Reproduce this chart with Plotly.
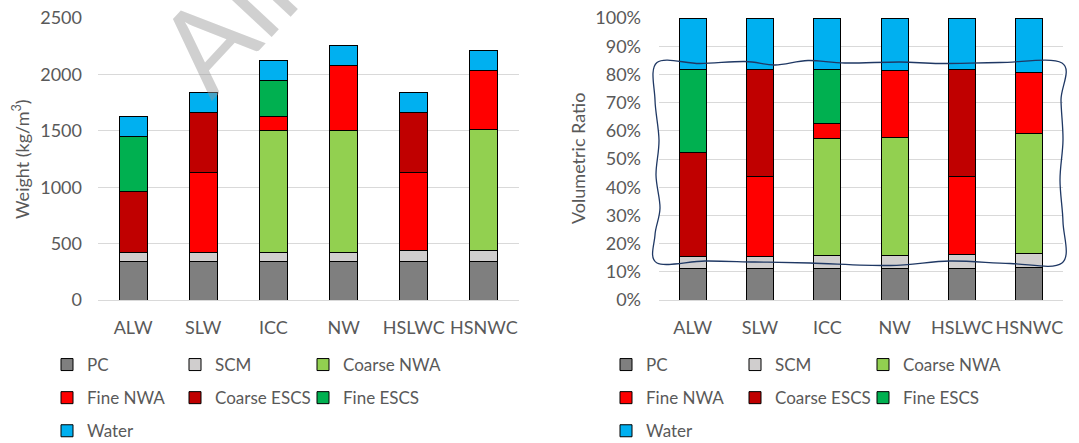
import plotly.graph_objects as go

# Mix designs
mixes = ["ALW", "SLW", "ICC", "NW", "HSLWC", "HSNWC"]

# Constituent weights (kg/m3); None = constituent not used in the mix
pc_wt = [340, 340, 340, 340, 340, 340]
scm_wt = [84, 84, 84, 84, 96, 96]
coarse_nwa_wt = [None, None, 1077, 1077, None, 1076]
fine_nwa_wt = [None, 703, 127, 578, 691, 522]
coarse_escs_wt = [534, 534, None, None, 534, None]
fine_escs_wt = [495, None, 318, None, None, None]
water_wt = [178, 178, 178, 178, 178, 178]

# Volumetric ratios (% of unit volume)
pc_vol = [11.25, 11.25, 11.25, 11.25, 11.25, 11.7]
scm_vol = [4.25, 4.25, 4.45, 4.45, 4.95, 4.9]
coarse_nwa_vol = [None, None, 41.6, 41.9, None, 42.6]
fine_nwa_vol = [None, 28.4, 5.2, 23.7, 27.7, 21.4]
coarse_escs_vol = [36.8, 37.7, None, None, 37.7, None]
fine_escs_vol = [29.3, None, 19.1, None, None, None]
water_vol = [18.4, 18.4, 18.4, 18.7, 18.4, 19.4]

names = ["PC", "SCM", "Coarse NWA", "Fine NWA", "Coarse ESCS", "Fine ESCS", "Water"]
colors = ["#7f7f7f", "#d0cece", "#92d050", "#ff0000", "#c00000", "#00b050", "#00b0f0"]
weights = [pc_wt, scm_wt, coarse_nwa_wt, fine_nwa_wt, coarse_escs_wt, fine_escs_wt, water_wt]
volumes = [pc_vol, scm_vol, coarse_nwa_vol, fine_nwa_vol, coarse_escs_vol, fine_escs_vol, water_vol]

FONT = "Lato"
TXT = "#595959"
GRID = "#d9d9d9"
W, H = 1079, 443

# legend layout: three columns per chart, entries fill row by row
col_of = [0, 1, 2, 0, 1, 2, 0]

fig = go.Figure()
for chart, (data, xa, ya) in enumerate([(weights, "x", "y"), (volumes, "x2", "y2")]):
    for i, (nm, col) in enumerate(zip(names, colors)):
        k = chart * 3 + col_of[i]
        fig.add_trace(go.Bar(
            x=mixes, y=data[i], name=nm, legendgroup=f"{chart}-{nm}",
            marker=dict(color=col, line=dict(color="#000000", width=1)),
            xaxis=xa, yaxis=ya, legend="legend" if k == 0 else f"legend{k + 1}",
        ))

tickfont = dict(family=FONT, size=18, color=TXT)
ax_common = dict(showline=False, ticks="", tickfont=tickfont, fixedrange=True)

plot_top, plot_bot = 18, 300


def ypaper(py):
    return (plot_bot - py) / (plot_bot - plot_top)


col_left_px = [57, 185, 313, 616, 745, 873]
legends = {}
for k in range(6):
    key = "legend" if k == 0 else f"legend{k + 1}"
    legends[key] = dict(
        orientation="v", x=col_left_px[k] / W, y=ypaper(347), xanchor="left", yanchor="top",
        font=dict(family=FONT, size=17, color=TXT), tracegroupgap=8, indentation=-10,
        bgcolor="rgba(0,0,0,0)", traceorder="grouped",
    )

# wavy break frame around the right-hand bars (pixel outline converted to axis units)
frame_px = [
    (657, 62.5), (700, 63.5), (745, 61.5), (775, 65), (808, 60.5), (845, 63), (900, 62), (940, 63.5),
    (1000, 62.5), (1062, 63),
    (1061, 100), (1063, 140), (1060, 180), (1063, 222), (1062, 263),
    (1010, 263.5), (950, 261), (890, 265.5), (810, 263), (755, 262), (705, 261), (657, 263),
    (655, 235), (660, 208), (656, 175), (659, 140), (655, 100), (657, 62.5),
]
x2_l, x2_r = 659, 1063


def to_ax(p):
    return ((p[0] - x2_l) / (x2_r - x2_l), (plot_bot - p[1]) / (plot_bot - plot_top) * 100)


pts = [to_ax(p) for p in frame_px]
path = f"M {pts[0][0]:.5f},{pts[0][1]:.4f}"
n = len(pts)
for j in range(n - 1):
    p0 = pts[j - 1] if j > 0 else pts[-2]
    p1, p2 = pts[j], pts[j + 1]
    p3 = pts[j + 2] if j + 2 < n else pts[1]
    c1 = (p1[0] + (p2[0] - p0[0]) / 6, p1[1] + (p2[1] - p0[1]) / 6)
    c2 = (p2[0] - (p3[0] - p1[0]) / 6, p2[1] - (p3[1] - p1[1]) / 6)
    path += f" C {c1[0]:.5f},{c1[1]:.4f} {c2[0]:.5f},{c2[1]:.4f} {p2[0]:.5f},{p2[1]:.4f}"
path += " Z"

fig.update_layout(
    width=W, height=H, margin=dict(l=0, r=0, t=plot_top, b=H - plot_bot, autoexpand=False),
    paper_bgcolor="white", plot_bgcolor="white",
    barmode="stack", bargap=0.6,
    font=dict(family=FONT, size=18, color=TXT),
    xaxis=dict(domain=[98 / W, 519 / W], anchor="y", ticklabelstandoff=15, **ax_common),
    yaxis=dict(domain=[0, 1], anchor="x", range=[0, 2500], dtick=500, gridcolor=GRID, gridwidth=1,
               zeroline=True, zerolinecolor=GRID, zerolinewidth=1, ticklabelstandoff=15, **ax_common),
    xaxis2=dict(domain=[x2_l / W, x2_r / W], anchor="y2", ticklabelstandoff=15, **ax_common),
    yaxis2=dict(domain=[0, 1], anchor="x2", range=[0, 100], dtick=10, ticksuffix="%", gridcolor=GRID,
                gridwidth=1, zeroline=True, zerolinecolor=GRID, zerolinewidth=1, ticklabelstandoff=17,
                **ax_common),
    shapes=[dict(type="path", path=path, xref="x2 domain", yref="y2",
                 line=dict(color="#1f3864", width=1.3), fillcolor="rgba(0,0,0,0)", layer="above")],
    annotations=[
        dict(text="Weight (kg/m<sup>3</sup>)", x=21 / W, y=0.5, xref="paper", yref="paper",
             textangle=-90, showarrow=False, font=dict(family=FONT, size=18, color=TXT),
             xanchor="center", yanchor="middle"),
        dict(text="Volumetric Ratio", x=578 / W, y=0.5, xref="paper", yref="paper",
             textangle=-90, showarrow=False, font=dict(family=FONT, size=18, color=TXT),
             xanchor="center", yanchor="middle"),
        dict(text="All", x=224 / W, y=ypaper(21.6), xref="paper", yref="paper", textangle=-47,
             showarrow=False, font=dict(family=FONT, size=118, color="rgba(150,150,150,0.45)"),
             xanchor="center", yanchor="middle"),
    ],
    **legends,
)

fig.write_html("out.html")
